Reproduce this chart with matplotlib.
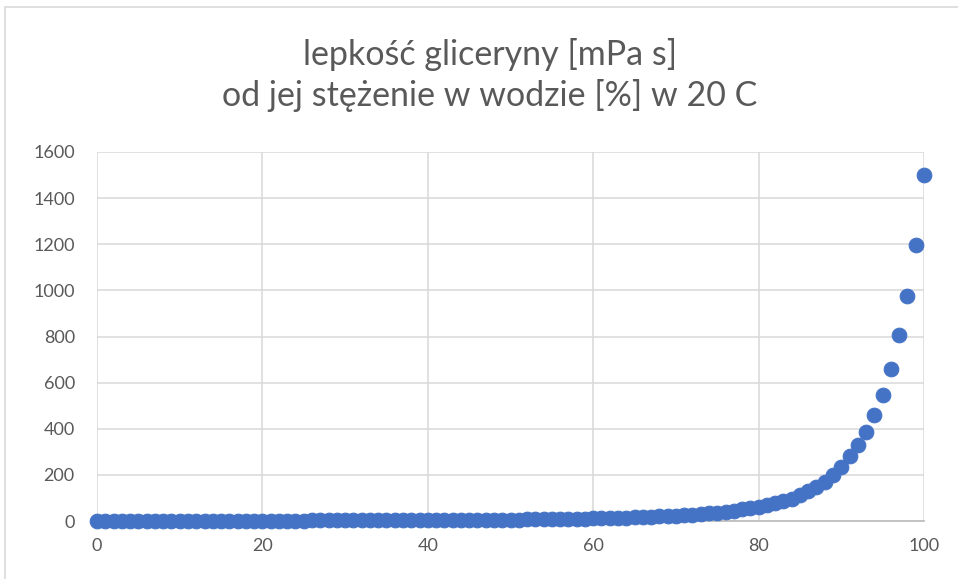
import matplotlib
matplotlib.use("Agg")
import matplotlib.pyplot as plt
from matplotlib.patches import Rectangle

# stezenie gliceryny w wodzie [%]
concentration = list(range(0, 101))

# lepkosc [mPa s] w 20 C
viscosity = [
    1.005, 1.03, 1.06, 1.09, 1.12, 1.15, 1.18, 1.21, 1.24, 1.28,
    1.31, 1.35, 1.39, 1.43, 1.47, 1.52, 1.56, 1.61, 1.66, 1.71,
    1.77, 1.83, 1.89, 1.96, 2.03, 2.10, 2.17, 2.25, 2.33, 2.41,
    2.50, 2.60, 2.71, 2.81, 2.93, 3.05, 3.17, 3.30, 3.44, 3.59,
    3.75, 3.92, 4.10, 4.29, 4.49, 4.70, 4.92, 5.15, 5.39, 5.66,
    6.05, 6.33, 6.68, 7.05, 7.45, 7.87, 8.32, 8.80, 9.32, 9.88,
    10.96, 11.7, 12.5, 13.4, 14.4, 15.54, 16.9, 18.42, 19.8, 21.3,
    22.94, 24.9, 27.3, 30.0, 33.0, 36.46, 40.5, 45.0, 50.0, 55.7,
    62.0, 68.8, 76.5, 85.5, 97.0, 112.9, 128, 147, 170, 200,
    234.6, 281, 328, 388, 458, 545, 661, 805, 974, 1198,
    1499,
]

x_ticks = [0, 20, 40, 60, 80, 100]
y_ticks = [0, 200, 400, 600, 800, 1000, 1200, 1400, 1600]

title = "lepkość gliceryny [mPa s]\nod jej stężenie w wodzie [%] w 20 C"

text_color = "#595959"
grid_color = "#D9D9D9"
point_color = "#4472C4"

plt.rcParams['font.family'] = ['Lato', 'DejaVu Sans']

fig = plt.figure(figsize=(9.58, 5.79), dpi=100)
ax = fig.add_axes([97 / 958, 1 - 521 / 579, 827 / 958, 369 / 579])

# ramka wykresu (przycieta z prawej i z dolu)
fig.patches.append(Rectangle((5 / 958, -0.05), 1.2, 1 - 7 / 579 + 0.05,
                             transform=fig.transFigure, fill=False,
                             edgecolor=grid_color, linewidth=1.2))

ax.scatter(concentration, viscosity, s=112, color=point_color,
           edgecolors=point_color, linewidths=0.75, zorder=3, clip_on=False)

ax.set_xlim(0, 100)
ax.set_ylim(0, 1600)
ax.set_xticks(x_ticks)
ax.set_yticks(y_ticks)
ax.grid(True, color=grid_color, linewidth=1.1)
ax.set_axisbelow(True)

for side in ['top', 'right', 'left']:
    ax.spines[side].set_visible(False)
ax.spines['bottom'].set_color('#BFBFBF')
ax.spines['bottom'].set_linewidth(1.3)

ax.tick_params(axis='both', length=0, labelsize=13, labelcolor=text_color)
ax.tick_params(axis='y', pad=16)
ax.tick_params(axis='x', pad=12)

fig.text(490 / 958, 1 - 75 / 579, title, ha='center', va='center',
         fontsize=24.5, color=text_color, linespacing=1.28)

fig.savefig('out.png', dpi=100)
